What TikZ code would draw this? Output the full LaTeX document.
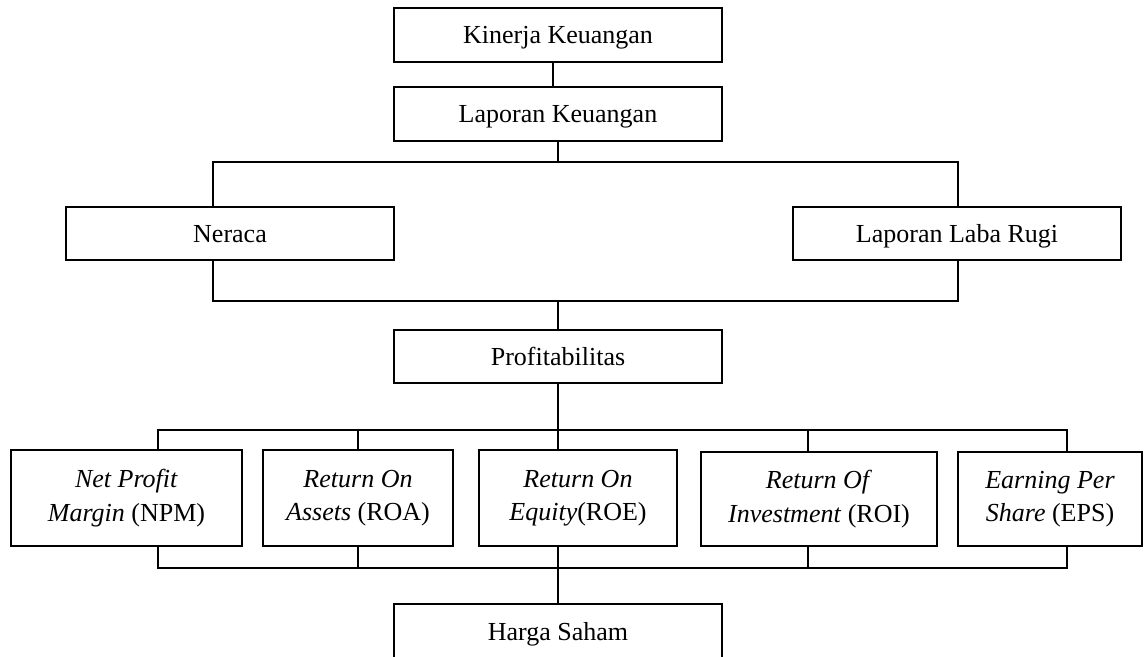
\documentclass[tikz,border=0pt]{standalone}
\usepackage{fontspec}
\setmainfont{Liberation Serif}
\usetikzlibrary{positioning}

\begin{document}
\begin{tikzpicture}[x=0.75pt, y=-0.75pt,
  kotak/.style={draw, line width=1.4pt, inner sep=0pt, align=center,
    font=\fontsize{19.5}{25}\selectfont},
  judul/.style={kotak, minimum width=246pt, text depth=0pt},
  garis/.style={line width=1.1pt}]

\useasboundingbox (0,0) rectangle (1144,656);

\node[judul, minimum height=40.5pt] (kinerja) at (558,35) {Kinerja Keuangan};
\node[judul, minimum height=40.5pt] (lapkeu) at (558,114) {Laporan Keuangan};
\node[judul, minimum height=40pt] (neraca) at (230,233.5) {Neraca};
\node[judul, minimum height=40pt] (labarugi) at (957,233.5) {Laporan Laba Rugi};
\node[judul, minimum height=40pt] (profit) at (558,356.5) {Profitabilitas};

\node[kotak, minimum width=173pt, minimum height=72pt] (npm) at (126.5,498) {\textit{Net Profit}\\\textit{Margin} (NPM)};
\node[kotak, minimum width=142.5pt, minimum height=72pt] (roa) at (358,498) {\textit{Return On}\\\textit{Assets} (ROA)};
\node[kotak, minimum width=148.5pt, minimum height=72pt] (roe) at (578,498) {\textit{Return On}\\\textit{Equity}(ROE)};
\node[kotak, minimum width=177pt, minimum height=71pt] (roi) at (819,499) {\textit{Return Of}\\\textit{Investment} (ROI)};
\node[kotak, minimum width=138pt, minimum height=71pt] (eps) at (1050,499) {\textit{Earning Per}\\\textit{Share} (EPS)};

\node[judul, minimum height=40.5pt] (harga) at (558,631) {Harga Saham};

\coordinate (c1) at (553,62);
\draw[garis] (c1) -- (c1 |- lapkeu.north);

\coordinate (a1) at (213,162);
\coordinate (a2) at (958,162);
\coordinate (a3) at (213,301);
\coordinate (a4) at (958,301);
\draw[garis] (lapkeu.south) -- (lapkeu.south |- a1);
\draw[garis] (a1 |- neraca.north) -- (a1) -- (a2) -- (a2 |- labarugi.north);
\draw[garis] (a3 |- neraca.south) -- (a3) -- (a4) -- (a4 |- labarugi.south);
\draw[garis] (profit.north |- a3) -- (profit.north);

\coordinate (b1) at (158,430);
\coordinate (b2) at (358,430);
\coordinate (b3) at (558,430);
\coordinate (b4) at (808,430);
\coordinate (b5) at (1067,430);
\draw[garis] (profit.south) -- (b3);
\draw[garis] (b1 |- npm.north) -- (b1) -- (b5) -- (b5 |- eps.north);
\draw[garis] (b2) -- (b2 |- roa.north);
\draw[garis] (b3) -- (b3 |- roe.north);
\draw[garis] (b4) -- (b4 |- roi.north);

\coordinate (d1) at (158,568);
\coordinate (d2) at (358,568);
\coordinate (d3) at (558,568);
\coordinate (d4) at (808,568);
\coordinate (d5) at (1067,568);
\draw[garis] (d1 |- npm.south) -- (d1) -- (d5) -- (d5 |- eps.south);
\draw[garis] (d2 |- roa.south) -- (d2);
\draw[garis] (d3 |- roe.south) -- (d3);
\draw[garis] (d4 |- roi.south) -- (d4);
\draw[garis] (d3) -- (harga.north);

\end{tikzpicture}
\end{document}
